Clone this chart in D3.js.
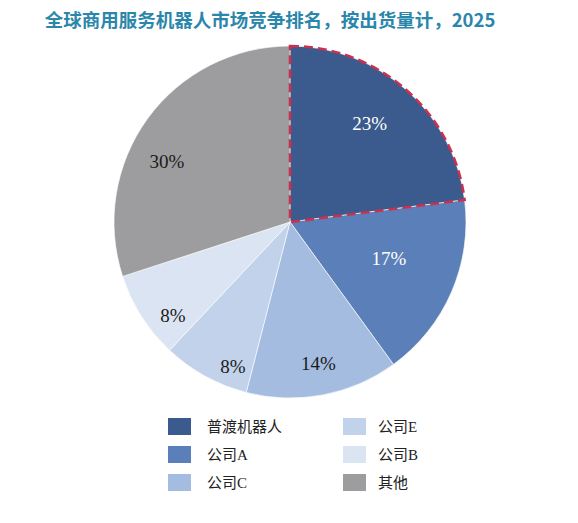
<!DOCTYPE html>
<html>
<head>
<meta charset="utf-8">
<script src="https://cdn.jsdelivr.net/npm/d3@7"></script>
<style>
  body { margin: 0; background: #fff; }
</style>
</head>
<body>
<div id="container"></div>
<script>
let names = ["普渡机器人", "公司A", "公司C", "公司E", "公司B", "其他"];
let shares = [23, 17, 14, 8, 8, 30];
let colors = ["#3b5a8d", "#5b7fb8", "#a3bce0", "#c1d2ea", "#dae4f2", "#9d9d9f"];
let labelColors = ["#fff", "#fff", "#1a1a1a", "#1a1a1a", "#1a1a1a", "#1a1a1a"];
let title = "全球商用服务机器人市场竞争排名，按出货量计，2025";

// label placement inside each slice: fraction along the slice angle, fraction of radius
let labelAlong = [0.47, 0.45, 0.49, 0.25, 0.29, 0.41];
let labelRadius = [0.72, 0.6, 0.82, 0.88, 0.85, 0.78];

let w = 578;
let h = 523;
let cx = 290;
let cy = 222;
let r = 176;

let viz = d3.select("#container")
  .append("svg")
  .attr("width", w)
  .attr("height", h);

viz.append("text")
  .attr("x", 270)
  .attr("y", 27)
  .attr("text-anchor", "middle")
  .attr("fill", "#2a86aa")
  .style("font-family", "'Noto Sans CJK SC', sans-serif")
  .style("font-weight", "bold")
  .style("font-size", "18.5px")
  .text(title);

let data = names.map(function (d, i) { return { name: d, value: shares[i], i: i }; });

let pie = d3.pie().sort(null).value(function (d) { return d.value; });
let arcs = pie(data);
let arc = d3.arc().innerRadius(0).outerRadius(r);

let pieGroup = viz.append("g").attr("transform", "translate(" + cx + "," + cy + ")");

pieGroup.selectAll(".slice").data(arcs).enter()
  .append("path")
  .attr("class", "slice")
  .attr("d", arc)
  .attr("fill", function (d) { return colors[d.data.i]; })
  .attr("stroke", "#fff")
  .attr("stroke-width", 0.6);

// red dashed outline on the leading slice
pieGroup.append("path")
  .attr("d", arc(arcs[0]))
  .attr("fill", "none")
  .attr("stroke", "#c8314f")
  .attr("stroke-width", 2.6)
  .attr("stroke-dasharray", "9,5");

function labelPos(d) {
  let t = labelAlong[d.data.i];
  let a = d.startAngle + (d.endAngle - d.startAngle) * t;
  let rr = r * labelRadius[d.data.i];
  return [Math.sin(a) * rr, -Math.cos(a) * rr];
}

pieGroup.selectAll(".lbl").data(arcs).enter()
  .append("text")
  .attr("class", "lbl")
  .attr("transform", function (d) { return "translate(" + labelPos(d) + ")"; })
  .attr("dy", "0.35em")
  .attr("text-anchor", "middle")
  .attr("fill", function (d) { return labelColors[d.data.i]; })
  .style("font-family", "'Liberation Serif', serif")
  .style("font-size", "19px")
  .text(function (d) { return d.data.value + "%"; });

// legend
let legend = viz.append("g").attr("class", "legend");
let legendItems = legend.selectAll(".item").data(data).enter()
  .append("g")
  .attr("class", "item")
  .attr("transform", function (d) {
    let col = Math.floor(d.i / 3);
    let row = d.i % 3;
    return "translate(" + (168 + col * 175) + "," + (418 + row * 28) + ")";
  });

legendItems.append("rect")
  .attr("width", 23)
  .attr("height", 17)
  .attr("fill", function (d) { return colors[d.i]; });

legendItems.append("text")
  .attr("x", function (d) { return d.i < 3 ? 39 : 35; })
  .attr("y", 9)
  .attr("dy", "0.35em")
  .attr("fill", "#222")
  .style("font-family", "'Liberation Serif', 'Noto Sans CJK SC', serif")
  .style("font-size", "15px")
  .text(function (d) { return d.name; });
</script>
</body>
</html>
